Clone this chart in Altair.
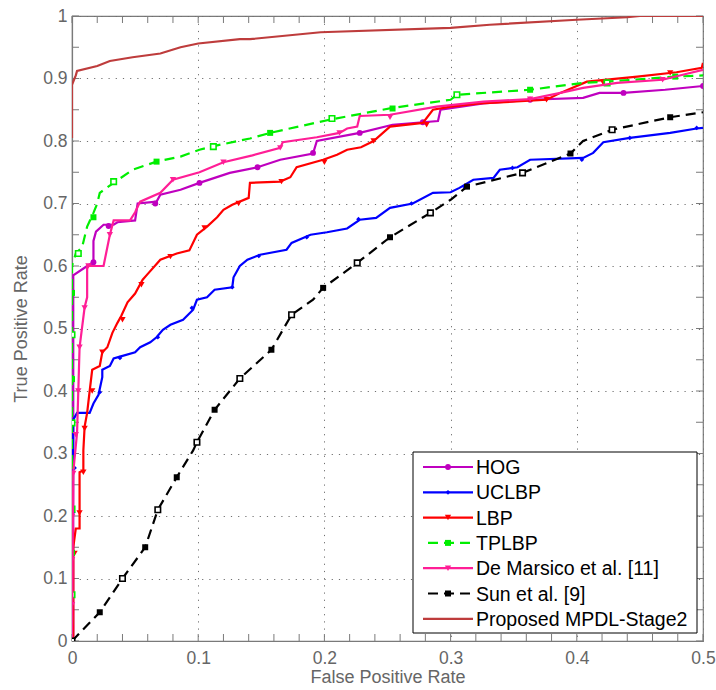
import altair as alt
import pandas as pd

# ---------------- data ----------------
NAMES = ["HOG", "UCLBP", "LBP", "TPLBP", "De Marsico et al. [11]", "Sun et al. [9]", "Proposed MPDL-Stage2"]

HOG_X = [0, 0.001, 0.001, 0.012, 0.017, 0.017, 0.019, 0.025, 0.033, 0.036, 0.05, 0.052, 0.067, 0.07, 0.086,
         0.101, 0.125, 0.147, 0.165, 0.191, 0.194, 0.228, 0.254, 0.278, 0.29, 0.292, 0.326, 0.363, 0.405,
         0.418, 0.437, 0.47, 0.5]
HOG_Y = [0, 0.0, 0.585, 0.60, 0.606, 0.64, 0.655, 0.666, 0.666, 0.67, 0.673, 0.70, 0.703, 0.714, 0.722,
         0.733, 0.749, 0.758, 0.77, 0.78, 0.80, 0.813, 0.826, 0.83, 0.832, 0.85, 0.86, 0.866, 0.869,
         0.877, 0.877, 0.882, 0.888]
HOG_MX = [0.017, 0.029, 0.066, 0.101, 0.147, 0.191, 0.228, 0.278, 0.363, 0.437, 0.5]
HOG_MY = [0.606, 0.664, 0.70, 0.733, 0.758, 0.781, 0.813, 0.83, 0.866, 0.877, 0.888]

UCL_X = [0, 0.001, 0.004, 0.014, 0.017, 0.021, 0.024, 0.024, 0.03, 0.033, 0.038, 0.05, 0.054, 0.062, 0.067,
         0.072, 0.078, 0.088, 0.096, 0.099, 0.107, 0.113, 0.127, 0.128, 0.133, 0.139, 0.149, 0.17, 0.174,
         0.189, 0.202, 0.218, 0.228, 0.241, 0.252, 0.27, 0.286, 0.3, 0.307, 0.318, 0.334, 0.339, 0.353,
         0.363, 0.405, 0.413, 0.421, 0.442, 0.474, 0.495, 0.5]
UCL_Y = [0, 0.354, 0.365, 0.365, 0.38, 0.394, 0.422, 0.434, 0.44, 0.452, 0.455, 0.462, 0.47, 0.478, 0.486,
         0.498, 0.506, 0.514, 0.53, 0.546, 0.55, 0.562, 0.566, 0.582, 0.60, 0.61, 0.618, 0.626, 0.637,
         0.65, 0.654, 0.66, 0.674, 0.677, 0.693, 0.70, 0.717, 0.718, 0.725, 0.738, 0.741, 0.754, 0.758,
         0.77, 0.773, 0.781, 0.798, 0.805, 0.813, 0.82, 0.821]
UCL_MX = [0.001, 0.002, 0.022, 0.038, 0.068, 0.095, 0.127, 0.148, 0.186, 0.227, 0.269, 0.311, 0.349, 0.404, 0.442, 0.495]
UCL_MY = [0.206, 0.277, 0.398, 0.453, 0.486, 0.533, 0.566, 0.616, 0.646, 0.675, 0.70, 0.727, 0.757, 0.77, 0.805, 0.821]

LBP_X = [0.001, 0.001, 0.003, 0.006, 0.006, 0.006, 0.009, 0.009, 0.01, 0.012, 0.014, 0.016, 0.022, 0.024,
         0.028, 0.032, 0.036, 0.039, 0.044, 0.05, 0.056, 0.059, 0.07, 0.083, 0.093, 0.099, 0.107, 0.115,
         0.12, 0.127, 0.14, 0.141, 0.165, 0.173, 0.178, 0.199, 0.21, 0.218, 0.229, 0.239, 0.252, 0.278,
         0.286, 0.3, 0.323, 0.376, 0.387, 0.408, 0.448, 0.479, 0.499, 0.5]
LBP_Y = [0, 0.15, 0.18, 0.18, 0.205, 0.27, 0.273, 0.305, 0.343, 0.365, 0.40, 0.434, 0.44, 0.462,
         0.47, 0.493, 0.509, 0.52, 0.542, 0.556, 0.578, 0.585, 0.61, 0.62, 0.625, 0.65, 0.663, 0.678,
         0.69, 0.698, 0.709, 0.733, 0.735, 0.742, 0.758, 0.77, 0.778, 0.786, 0.79, 0.80, 0.823, 0.829,
         0.85, 0.855, 0.86, 0.866, 0.877, 0.895, 0.903, 0.91, 0.917, 0.925]
LBP_MX = [0.002, 0.006, 0.009, 0.01, 0.016, 0.024, 0.04, 0.055, 0.078, 0.105, 0.132, 0.166, 0.2, 0.239, 0.281, 0.376, 0.421, 0.474]
LBP_MY = [0.14, 0.205, 0.27, 0.34, 0.40, 0.462, 0.514, 0.57, 0.615, 0.661, 0.70, 0.735, 0.766, 0.80, 0.826, 0.866, 0.893, 0.909]

TPL_X = [0, 0, 0.003, 0.008, 0.012, 0.017, 0.02, 0.022, 0.033, 0.048, 0.067, 0.086, 0.101, 0.115, 0.141,
         0.157, 0.204, 0.254, 0.3, 0.305, 0.363, 0.405, 0.424, 0.478, 0.5]
TPL_Y = [0, 0.60, 0.62, 0.63, 0.663, 0.685, 0.70, 0.717, 0.733, 0.754, 0.767, 0.775, 0.786, 0.793, 0.804,
         0.813, 0.834, 0.853, 0.866, 0.874, 0.882, 0.893, 0.895, 0.903, 0.905]
TPL_MX = [0, 0, 0, 0, 0, 0, 0, 0, 0.005, 0.017, 0.033, 0.067, 0.112, 0.157, 0.206, 0.254, 0.305, 0.363, 0.424, 0.478]
TPL_MY = [0.074, 0.141, 0.211, 0.28, 0.349, 0.419, 0.49, 0.557, 0.62, 0.678, 0.735, 0.767, 0.791, 0.813,
          0.836, 0.852, 0.874, 0.882, 0.893, 0.903]

DEM_X = [0, 0.001, 0.004, 0.005, 0.006, 0.01, 0.012, 0.012, 0.025, 0.027, 0.03, 0.033, 0.046, 0.05, 0.054,
         0.07, 0.08, 0.101, 0.12, 0.143, 0.165, 0.167, 0.194, 0.212, 0.218, 0.226, 0.228, 0.252, 0.289,
         0.326, 0.363, 0.387, 0.405, 0.432, 0.468, 0.484, 0.5]
DEM_Y = [0, 0.27, 0.333, 0.40, 0.47, 0.534, 0.55, 0.60, 0.60, 0.62, 0.65, 0.673, 0.673, 0.686, 0.703,
         0.717, 0.738, 0.75, 0.766, 0.777, 0.789, 0.798, 0.806, 0.813, 0.82, 0.823, 0.84, 0.842, 0.855,
         0.863, 0.867, 0.877, 0.885, 0.893, 0.898, 0.906, 0.914]
DEM_MX = [0, 0, 0, 0.001, 0.003, 0.005, 0.006, 0.01, 0.013, 0.03, 0.08, 0.12, 0.165, 0.212, 0.252, 0.363, 0.468]
DEM_MY = [0.058, 0.13, 0.199, 0.268, 0.33, 0.40, 0.47, 0.533, 0.60, 0.65, 0.738, 0.766, 0.789, 0.813, 0.838, 0.867, 0.898]

SUN_X = [0, 0.022, 0.04, 0.058, 0.068, 0.083, 0.096, 0.099, 0.113, 0.133, 0.158, 0.174, 0.191, 0.199, 0.226,
         0.252, 0.284, 0.3, 0.313, 0.357, 0.395, 0.405, 0.428, 0.474, 0.5]
SUN_Y = [0, 0.046, 0.10, 0.15, 0.21, 0.262, 0.305, 0.318, 0.37, 0.42, 0.466, 0.522, 0.546, 0.565, 0.605,
         0.646, 0.685, 0.706, 0.727, 0.749, 0.78, 0.80, 0.818, 0.838, 0.846]
SUN_MX = [0, 0.022, 0.04, 0.058, 0.068, 0.083, 0.099, 0.113, 0.133, 0.158, 0.174, 0.199, 0.226, 0.252,
          0.284, 0.313, 0.357, 0.395, 0.428, 0.474]
SUN_MY = [0, 0.046, 0.10, 0.15, 0.21, 0.262, 0.318, 0.37, 0.42, 0.466, 0.522, 0.565, 0.605, 0.646,
          0.685, 0.727, 0.749, 0.78, 0.818, 0.838]

PRO_X = [0, 0, 0.003, 0.004, 0.02, 0.03, 0.048, 0.07, 0.086, 0.1, 0.133, 0.141, 0.197, 0.3, 0.331, 0.4,
         0.44, 0.45, 0.5]
PRO_Y = [0.805, 0.89, 0.905, 0.912, 0.92, 0.928, 0.934, 0.94, 0.95, 0.956, 0.963, 0.963, 0.974, 0.981,
         0.986, 0.994, 0.998, 1.0, 1.0]

X_TICKS = [0, 0.1, 0.2, 0.3, 0.4, 0.5]
Y_TICKS = [0, 0.1, 0.2, 0.3, 0.4, 0.5, 0.6, 0.7, 0.8, 0.9, 1.0]
X_MINOR = [round(0.02 * i, 2) for i in range(26)]
Y_MINOR = [round(0.05 * i, 2) for i in range(21)]

# ---------------- styling ----------------
W, H = 631, 625
FONT = "Liberation Sans"
COLORS = ["#BF00BF", "#0000FF", "#FF0000", "#00EE00", "#FF1E96", "#000000", "#BE3C3C"]
DASHED = [False, False, False, True, False, True, False]
SHAPES = ["circle", "diamond", "triangle-down", "square", "triangle-down", "square", None]
MSIZE = [34, 22, 40, 36, 40, 36, 0]

x_axis = alt.Axis(values=X_TICKS, format="~g", title="False Positive Rate", labelFlush=False,
                  labelOverlap=False, labelPadding=8, titlePadding=2, grid=True)
y_axis = alt.Axis(values=Y_TICKS, format="~g", title="True Positive Rate", labelFlush=False,
                  labelOverlap=False, labelPadding=5, titlePadding=12, grid=True)
x_scale = alt.Scale(domain=[0, 0.5], nice=False, zero=False)
y_scale = alt.Scale(domain=[0, 1], nice=False, zero=False)


def X(field="x"):
    return alt.X(f"{field}:Q", scale=x_scale, axis=x_axis)


def Y(field="y"):
    return alt.Y(f"{field}:Q", scale=y_scale, axis=y_axis)


layers = []

# inward minor ticks (Matlab style box)
xt = pd.DataFrame({"x": X_MINOR})
yt = pd.DataFrame({"y": Y_MINOR})
tick_col = "#7a7a7a"
layers.append(alt.Chart(xt).mark_rule(color=tick_col, strokeWidth=1).encode(x=X(), y=alt.value(H), y2=alt.value(H - 7)))
layers.append(alt.Chart(xt).mark_rule(color=tick_col, strokeWidth=1).encode(x=X(), y=alt.value(0), y2=alt.value(7)))
layers.append(alt.Chart(yt).mark_rule(color=tick_col, strokeWidth=1).encode(y=Y(), x=alt.value(0), x2=alt.value(7)))
layers.append(alt.Chart(yt).mark_rule(color=tick_col, strokeWidth=1).encode(y=Y(), x=alt.value(W), x2=alt.value(W - 7)))

series = [
    (HOG_X, HOG_Y, HOG_MX, HOG_MY),
    (UCL_X, UCL_Y, UCL_MX, UCL_MY),
    (LBP_X, LBP_Y, LBP_MX, LBP_MY),
    (TPL_X, TPL_Y, TPL_MX, TPL_MY),
    (DEM_X, DEM_Y, DEM_MX, DEM_MY),
    (SUN_X, SUN_Y, SUN_MX, SUN_MY),
    (PRO_X, PRO_Y, [], []),
]

for k, (xs, ys, mx, my) in enumerate(series):
    df = pd.DataFrame({"x": xs, "y": ys, "i": list(range(len(xs)))})
    kw = dict(color=COLORS[k], strokeWidth=2.2, clip=True)
    if DASHED[k]:
        kw["strokeDash"] = [10, 6]
    layers.append(alt.Chart(df).mark_line(**kw).encode(x=X(), y=Y(), order="i:Q"))
    if mx:
        mdf = pd.DataFrame({"x": mx, "y": my})
        if SHAPES[k] == "square":
            filled = mdf.iloc[1::2]
            hollow = mdf.iloc[0::2]
            layers.append(alt.Chart(filled).mark_point(shape="square", filled=True, size=MSIZE[k], color=COLORS[k], opacity=1, clip=True)
                          .encode(x=X(), y=Y()))
            layers.append(alt.Chart(hollow).mark_point(shape="square", filled=False, fill="white", fillOpacity=1, size=MSIZE[k] - 6,
                                                       stroke=COLORS[k], strokeWidth=1.6, opacity=1, clip=True)
                          .encode(x=X(), y=Y()))
        else:
            layers.append(alt.Chart(mdf).mark_point(shape=SHAPES[k], filled=True, size=MSIZE[k], color=COLORS[k], opacity=1, clip=True)
                          .encode(x=X(), y=Y()))

# legend box (drawn by hand, Matlab style)
one = pd.DataFrame({"a": [0]})
LX0, LX1, LY0, LY1 = 341, 625, 436, 617
layers.append(alt.Chart(one).mark_rect(fill="white", stroke="black", strokeWidth=1).encode(
    x=alt.value(LX0), x2=alt.value(LX1), y=alt.value(LY0), y2=alt.value(LY1)))
for k, name in enumerate(NAMES):
    ry = 451 + k * 25.3
    kw = dict(color=COLORS[k], strokeWidth=2.2)
    x0 = 351
    if DASHED[k]:
        kw["strokeDash"] = [10, 6]
        x0 = 356
    layers.append(alt.Chart(one).mark_rule(**kw).encode(x=alt.value(x0), x2=alt.value(401), y=alt.value(ry)))
    if SHAPES[k]:
        layers.append(alt.Chart(one).mark_point(shape=SHAPES[k], filled=True, size=MSIZE[k], color=COLORS[k], opacity=1)
                      .encode(x=alt.value(376), y=alt.value(ry)))
    layers.append(alt.Chart(one).mark_text(align="left", baseline="middle", font=FONT, fontSize=19.5, color="black")
                  .encode(x=alt.value(404), y=alt.value(ry + 1), text=alt.value(name)))

chart = alt.layer(*layers).properties(
    width=W, height=H,
    autosize=alt.AutoSizeParams(type="none"),
    padding={"left": 72, "top": 16, "right": 13, "bottom": 49},
    background="white",
).configure_view(
    stroke="#7a7a7a", strokeWidth=1.2
).configure_axis(
    labelFont=FONT, labelFontSize=17.5, labelColor="#666666",
    titleFont=FONT, titleFontSize=18, titleColor="#666666", titleFontWeight="normal",
    domainColor="#7a7a7a", domainWidth=1.2, ticks=False,
    gridColor="#707070", gridDash=[1.2, 6], gridOpacity=1, gridWidth=1,
)

chart.save("out.html", embed_options={"renderer": "svg", "actions": False})
